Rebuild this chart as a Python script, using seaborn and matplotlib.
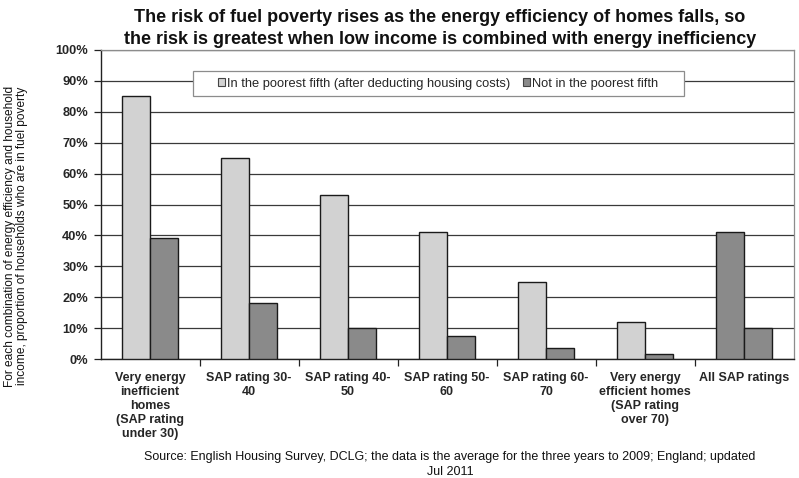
import matplotlib
matplotlib.use("Agg")
import matplotlib.pyplot as plt
import seaborn as sns
import pandas as pd
from matplotlib.patches import Rectangle, Patch
from matplotlib.ticker import MultipleLocator, FuncFormatter

categories = [
    "Very energy\ninefficient\nhomes\n(SAP rating\nunder 30)",
    "SAP rating 30-\n40",
    "SAP rating 40-\n50",
    "SAP rating 50-\n60",
    "SAP rating 60-\n70",
    "Very energy\nefficient homes\n(SAP rating\nover 70)",
    "All SAP ratings",
]
series_names = [
    "In the poorest fifth (after deducting housing costs)",
    "Not in the poorest fifth",
]
poorest_fifth = [85, 65, 53, 41, 25, 12, 41]
not_poorest_fifth = [39, 18, 10, 7.5, 3.5, 1.5, 10]

title_lines = [
    "The risk of fuel poverty rises as the energy efficiency of homes falls, so",
    "the risk is greatest when low income is combined with energy inefficiency",
]
ylabel_text = ("For each combination of energy efficiency and household\n"
               "income, proportion of households who are in fuel poverty")
source_lines = [
    "Source: English Housing Survey, DCLG; the data is the average for the three years to 2009; England; updated",
    "Jul 2011",
]

df = pd.DataFrame({
    "category": categories * 2,
    "series": [series_names[0]] * len(categories) + [series_names[1]] * len(categories),
    "value": poorest_fifth + not_poorest_fifth,
})

LIGHT = "#d2d2d2"
DARK = "#8a8a8a"

sns.set_theme(style="white")
plt.rcParams["font.family"] = ["Liberation Sans", "DejaVu Sans"]

W, H = 799, 478
fig = plt.figure(figsize=(W / 100, H / 100), dpi=100)
ax = fig.add_axes([100.5 / W, 1 - 359 / H, 693 / W, 309 / H])

sns.barplot(data=df, x="category", y="value", hue="series",
            order=categories, hue_order=series_names,
            palette=[LIGHT, DARK], width=0.57, ax=ax,
            edgecolor="#1a1a1a", linewidth=1.0, legend=False, zorder=3)

# In the original, the first bar of the last group is drawn in the dark shade
ax.containers[0][6].set_facecolor(DARK)

ax.set_xlim(-0.5, len(categories) - 0.5)
ax.set_ylim(0, 100)
ax.yaxis.set_major_locator(MultipleLocator(10))
ax.yaxis.set_major_formatter(FuncFormatter(lambda v, p: f"{int(v)}%"))
ax.grid(axis="y", color="#3a3a3a", linewidth=0.9, zorder=0)
ax.grid(axis="x", visible=False)
ax.set_axisbelow(True)

for s in ["top", "right"]:
    ax.spines[s].set_color("#8c8c8c")
    ax.spines[s].set_linewidth(0.9)
for s in ["left", "bottom"]:
    ax.spines[s].set_color("#222222")
    ax.spines[s].set_linewidth(1.0)

ax.set_xlabel("")
ax.set_ylabel("")
ax.tick_params(axis="y", which="major", direction="out", length=5, width=0.9,
               color="#222222", left=True, labelsize=9.2, pad=4)
for lab in ax.get_yticklabels():
    lab.set_fontweight("bold")
ax.tick_params(axis="x", which="major", length=0, labelsize=9, pad=9)
for lab in ax.get_xticklabels():
    lab.set_fontweight("bold")
    lab.set_linespacing(1.25)
ax.set_xticks([i + 0.5 for i in range(len(categories) - 1)], minor=True)
ax.tick_params(axis="x", which="minor", direction="out", length=5, width=0.9,
               color="#222222", bottom=True)

# Legend box
lx0, lx1 = (192.7 - 100.5) / 693, (684 - 100.5) / 693
ly0, ly1 = (359 - 96) / 309, (359 - 71) / 309
ax.add_patch(Rectangle((lx0, ly0), lx1 - lx0, ly1 - ly0, transform=ax.transAxes,
                       facecolor="white", edgecolor="#8c8c8c", linewidth=0.9,
                       zorder=4))
handles = [Patch(facecolor=LIGHT, edgecolor="#444444", linewidth=0.8),
           Patch(facecolor=DARK, edgecolor="#444444", linewidth=0.8)]
leg = ax.legend(handles, series_names, loc="center",
                bbox_to_anchor=((lx0 + lx1) / 2, (ly0 + ly1) / 2),
                ncol=2, frameon=False, fontsize=9.3, handlelength=0.5,
                handleheight=0.5, handletextpad=0.2, columnspacing=1.0,
                borderpad=0)
leg.set_zorder(5)

fig.text(440 / W, 1 - 18 / H, title_lines[0], ha="center", va="center",
         fontsize=13, fontweight="bold", color="#111111")
fig.text(440 / W, 1 - 40 / H, title_lines[1], ha="center", va="center",
         fontsize=13, fontweight="bold", color="#111111")

fig.text(16 / W, 1 - 236 / H, ylabel_text, rotation=90, ha="center",
         va="center", fontsize=8.6, linespacing=1.1, color="#111111")

fig.text(450 / W, 1 - 457 / H, source_lines[0], ha="center", va="center",
         fontsize=9.0, color="#111111")
fig.text(450 / W, 1 - 472 / H, source_lines[1], ha="center", va="center",
         fontsize=9.0, color="#111111")

fig.savefig("out.png", dpi=100, facecolor="white")
